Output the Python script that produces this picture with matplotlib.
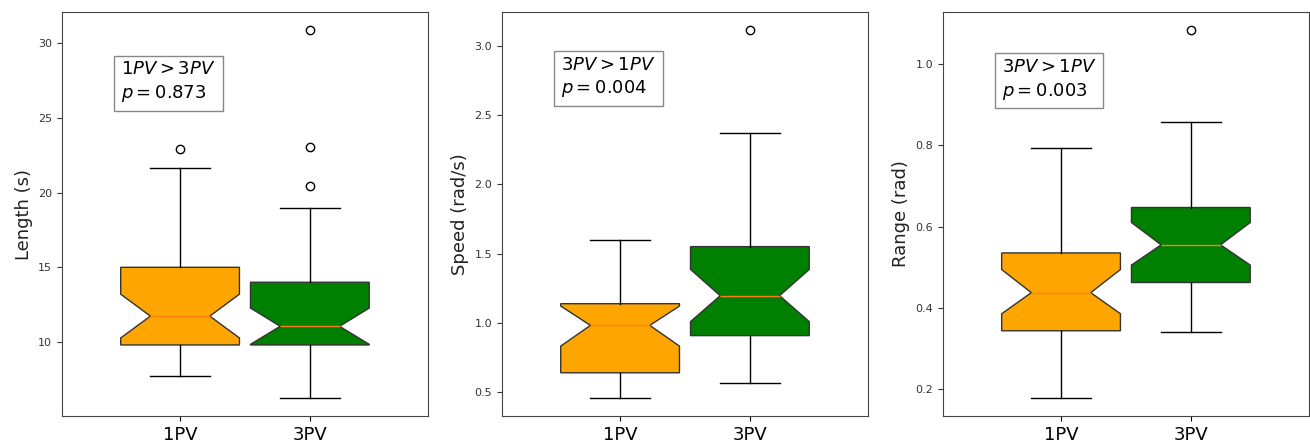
import matplotlib
matplotlib.use('Agg')
import matplotlib.pyplot as plt

#===== Data (per metric: [1PV, 3PV]) =====
groups = ['1PV', '3PV']
colors = ['orange', 'green']

ylabels = ['Length (s)', 'Speed (rad/s)', 'Range (rad)']
notes = [r'$1PV > 3PV$' + '\n' + r'$p = 0.873$',
         r'$3PV > 1PV$' + '\n' + r'$p = 0.004$',
         r'$3PV > 1PV$' + '\n' + r'$p = 0.003$']

length_whislo = [7.73, 6.27]
length_q1 = [9.8, 9.8]
length_med = [11.73, 11.05]
length_q3 = [15.0, 14.0]
length_whishi = [21.67, 19.0]
length_cilo = [10.27, 9.84]
length_cihi = [13.2, 12.27]
length_fliers = [[22.93], [20.47, 23.07, 30.87]]

speed_whislo = [0.457, 0.565]
speed_q1 = [0.637, 0.906]
speed_med = [0.98, 1.195]
speed_q3 = [1.137, 1.55]
speed_whishi = [1.6, 2.37]
speed_cilo = [0.83, 1.007]
speed_cihi = [1.12, 1.385]
speed_fliers = [[], [3.115]]

range_whislo = [0.178, 0.34]
range_q1 = [0.343, 0.462]
range_med = [0.437, 0.555]
range_q3 = [0.535, 0.647]
range_whishi = [0.793, 0.857]
range_cilo = [0.385, 0.505]
range_cihi = [0.494, 0.61]
range_fliers = [[], [1.084]]


def makeStats(whislo, q1, med, q3, whishi, cilo, cihi, fliers):
    stats = []
    for i in range(len(groups)):
        stats.append({'label': groups[i], 'whislo': whislo[i], 'q1': q1[i],
                      'med': med[i], 'q3': q3[i], 'whishi': whishi[i],
                      'cilo': cilo[i], 'cihi': cihi[i], 'fliers': fliers[i]})
    return stats


all_stats = [
    makeStats(length_whislo, length_q1, length_med, length_q3, length_whishi,
              length_cilo, length_cihi, length_fliers),
    makeStats(speed_whislo, speed_q1, speed_med, speed_q3, speed_whishi,
              speed_cilo, speed_cihi, speed_fliers),
    makeStats(range_whislo, range_q1, range_med, range_q3, range_whishi,
              range_cilo, range_cihi, range_fliers),
]

fig = plt.figure(figsize=(13.1, 4.44), dpi=100)
lefts = [0.0473, 0.3832, 0.7198]
note_y = [0.88, 0.892, 0.886]

for k in range(3):
    ax = fig.add_axes([lefts[k], 0.063, 0.2794, 0.91])
    bp = ax.bxp(all_stats[k], shownotches=True, patch_artist=True, widths=0.915,
                boxprops=dict(edgecolor='#333333', linewidth=1),
                medianprops=dict(color='C1', linewidth=1),
                whiskerprops=dict(color='black', linewidth=1),
                capprops=dict(color='black', linewidth=1),
                flierprops=dict(marker='o', markerfacecolor='none',
                                markeredgecolor='black', markersize=6))
    for patch, c in zip(bp['boxes'], colors):
        patch.set_facecolor(c)

    ax.set_xlim(0.09, 2.91)
    ax.set_ylabel(ylabels[k], fontsize=13, color='#222222')
    ax.tick_params(axis='y', labelsize=8, colors='#333333')
    ax.tick_params(axis='x', labelsize=13)
    for s in ax.spines.values():
        s.set_color('#444444')

    # stat annotation box
    ax.text(0.162, note_y[k], notes[k], transform=ax.transAxes, va='top', ha='left',
            fontsize=13, linespacing=1.3,
            bbox=dict(facecolor='white', edgecolor='#888888', pad=5))

plt.savefig('out.png', dpi=100)
